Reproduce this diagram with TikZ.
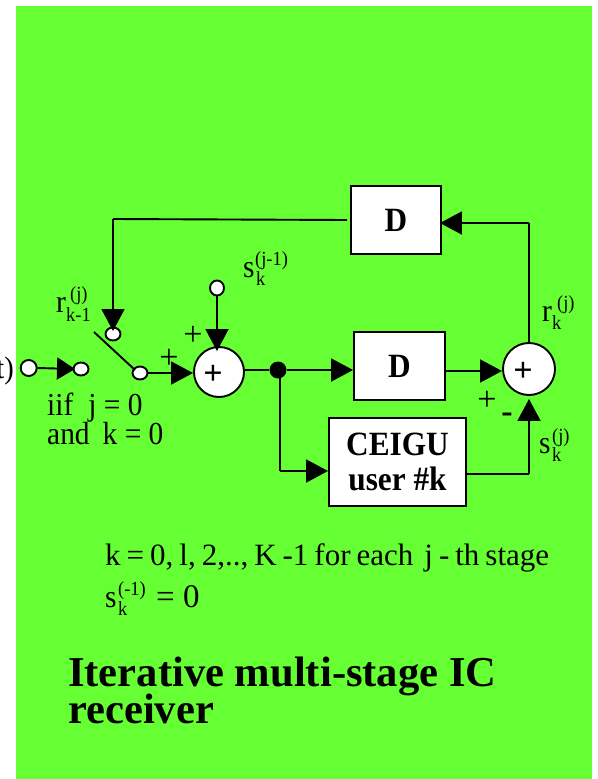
\documentclass[tikz,border=0pt]{standalone}
\usepackage{fontspec}
\setmainfont{Liberation Serif}
\newfontfamily\narrow[FakeStretch=0.92]{Liberation Serif}
\usetikzlibrary{arrows.meta,shapes.geometric}
\definecolor{bggreen}{HTML}{66FF33}
\newcommand{\pxfont}[1]{\fontsize{#1}{#1}\selectfont}
\tikzset{
  x=1pt,y=-1pt,
  line/.style={draw=black,line width=1.9pt},
  arr/.style={line,-{Triangle[length=22pt,width=23pt]}},
  arrshort/.style={line,-{Triangle[length=18pt,width=22pt]}},
  term/.style={draw=black,line width=1.9pt,fill=white,ellipse,minimum width=15pt,minimum height=13pt,inner sep=0pt},
  sumnode/.style={draw=black,line width=1.9pt,fill=white,circle,minimum size=50pt,inner sep=0pt},
  boxnode/.style={draw=black,line width=1.9pt,fill=white,inner sep=0pt,font=\narrow\bfseries\pxfont{34},align=center},
  lab/.style={inner sep=0pt,anchor=base west,font=\narrow\pxfont{32}},
  notetxt/.style={inner sep=0pt,anchor=base west,font=\pxfont{31}},
  small/.style={inner sep=0pt,anchor=base west,font=\narrow\pxfont{20}},
  sym/.style={inner sep=0pt,font=\pxfont{34}},
  bsym/.style={inner sep=0pt,font=\bfseries\pxfont{34}},
  title/.style={inner sep=0pt,anchor=base west,font=\bfseries\pxfont{42.6}},
}
\begin{document}
\begin{tikzpicture}
\useasboundingbox (0,0) rectangle (597,779);
\fill[white] (0,0) rectangle (597,779);
\fill[bggreen] (16,6) rectangle (592,779);

% boxes
\node[boxnode,minimum width=90pt,minimum height=68pt] (upD) at (396,220) {D};
\node[boxnode,minimum width=91pt,minimum height=68pt] (lowD) at (399.5,366) {D};
\node[boxnode,minimum width=137pt,minimum height=88pt] (ceigu) at (397.5,462) {CEIGU\\[1pt]user \#k};
% summing nodes
\node[sumnode] (sumA) at (219,372) {};
\node[sumnode,minimum size=52pt] (sumB) at (529,369) {};
\node[bsym] (plusA) at (213,375) {+};
\node[bsym] (plusB) at (523,372) {+};
% terminals
\node[term,minimum width=16pt,minimum height=16pt] (inA) at (28.7,368) {};
\node[term] (inB) at (81,369) {};
\node[term] (swOut) at (140,373) {};
\node[term] (swIn) at (113,334) {};
\node[term,minimum width=14pt,minimum height=15pt] (sTop) at (217,288) {};
\node[circle,fill=black,minimum size=17pt,inner sep=0pt] (dot) at (278,370) {};
% corners
\coordinate (fbL) at (113,219);
\coordinate (fbR) at (529,223);
\coordinate (ceigR) at (529,474);
\coordinate (dotD) at (280,471);
\coordinate (swA) at (94,332);
\coordinate (swB) at (135,370);

% connectors
\draw[line] ([xshift=-3pt]upD.west) -- (fbL);
\draw[arr] (fbL) -- ([yshift=3pt]swIn.center);
\draw[arrshort] (inA.east) -- ([xshift=-6pt]inB.center);
\draw[line] (swA) -- (swB);
\draw[arr] (swOut.east) -- ([yshift=-1pt]sumA.west -| sumA.west);
\draw[arr] (sTop.south) -- ([yshift=-5pt]sumA.north -| sTop.south);
\draw[line] (sumA.east |- dot) -- (dot);
\draw[arr] (dot) -- ([yshift=-4pt]lowD.west);
\draw[arr] ([yshift=-5pt]lowD.east) -- ([yshift=0pt]sumB.west |- lowD.east |- 0,371);
\draw[line] (sumB.north) -- (fbR);
\draw[arr] (fbR) -- ([xshift=-2pt,yshift=-3pt]upD.east);
\draw[line] ([xshift=2pt]dot.center) -- (dotD);
\draw[arr] (dotD) -- ([yshift=-9pt]ceigu.west);
\draw[line] ([yshift=-12pt]ceigu.east) -- (ceigR);
\draw[arr] (ceigR) -- ([yshift=-3pt]sumB.south);

% signs
\node[sym] (pA) at (193,336) {+};
\node[sym] (pB) at (169,359) {+};
\node[sym] (pC) at (487,401) {+};
\node[bsym] (mC) at (507,418) {-};

% input stub and switch condition
\node[inner sep=0pt,anchor=base east,font=\narrow\pxfont{31}] (inTxt) at (14,378) {t)};
\node[lab] (iif) at (47,415) {iif\hspace{15pt}j = 0};
\node[lab] (andk) at (47,444) {and\hspace{13pt}k = 0};

% r_{k-1}^{(j)}
\node[lab] (r1) at (56,312) {r};
\node[small] (r1a) at (70,300) {(j)};
\node[small] (r1b) at (66,321) {k-1};
% s_k^{(j-1)}
\node[lab] (s1) at (243,277) {s};
\node[small] (s1a) at (255,265) {(j-1)};
\node[small] (s1b) at (256,285) {k};
% r_k^{(j)}
\node[lab] (r2) at (542,321) {r};
\node[small] (r2a) at (557,309) {(j)};
\node[small] (r2b) at (552,329) {k};
% s_k^{(j)}
\node[lab] (s2) at (539,453) {s};
\node[small] (s2a) at (552,442) {(j)};
\node[small] (s2b) at (552,461) {k};

% notes
\node[notetxt] (note) at (105,565) {\spaceskip=6pt k = 0, l, 2,.., K -1 for each\hspace{5pt} j - th stage};
\node[lab] (s3) at (105,607) {s};
\node[small] (s3a) at (118,595) {(-1)};
\node[small] (s3b) at (118,615) {k};
\node[notetxt,font=\pxfont{33}] (s3c) at (156,607) {= 0};

% title
\node[title] (t1) at (68,686) {Iterative multi-stage IC};
\node[title] (t2) at (68,723) {receiver};
\end{tikzpicture}
\end{document}
